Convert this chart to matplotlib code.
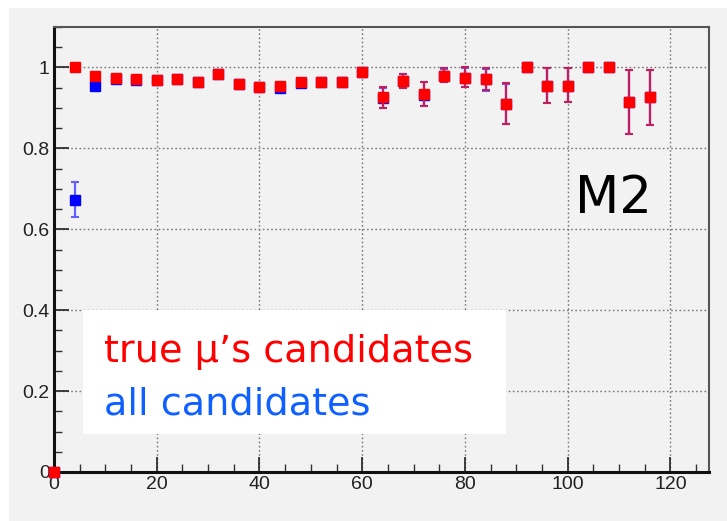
import matplotlib
matplotlib.use("Agg")
import matplotlib.pyplot as plt
from matplotlib.patches import Rectangle
from matplotlib.ticker import MultipleLocator

# Efficiency per bin, station M2
x_bins = [0, 4, 8, 12, 16, 20, 24, 28, 32, 36, 40, 44, 48, 52, 56, 60,
          64, 68, 72, 76, 80, 84, 88, 92, 96, 100, 104, 108, 112, 116]

eff_true = [0.0, 1.0, 0.979, 0.975, 0.971, 0.970, 0.972, 0.965, 0.985, 0.960,
            0.952, 0.955, 0.963, 0.965, 0.965, 0.990,
            0.926, 0.967, 0.934, 0.979, 0.974, 0.972, 0.910, 1.0, 0.955,
            0.955, 1.0, 1.0, 0.915, 0.926]
err_true_lo = [0.0, 0.0, 0.004, 0.004, 0.004, 0.004, 0.004, 0.005, 0.005, 0.005,
               0.005, 0.005, 0.006, 0.007, 0.010, 0.005,
               0.025, 0.018, 0.029, 0.014, 0.022, 0.028, 0.050, 0.0, 0.043,
               0.040, 0.0, 0.0, 0.079, 0.068]
err_true_hi = [0.0, 0.0, 0.004, 0.004, 0.004, 0.004, 0.004, 0.005, 0.005, 0.005,
               0.005, 0.005, 0.006, 0.007, 0.010, 0.005,
               0.026, 0.017, 0.031, 0.019, 0.026, 0.026, 0.051, 0.0, 0.044,
               0.044, 0.0, 0.0, 0.079, 0.068]

eff_all = [0.0, 0.673, 0.955, 0.972, 0.968, 0.969, 0.971, 0.964, 0.984, 0.959,
           0.951, 0.949, 0.962, 0.964, 0.964, 0.989,
           0.924, 0.966, 0.933, 0.978, 0.973, 0.971, 0.909, 1.0, 0.955,
           0.955, 1.0, 1.0, 0.915, 0.926]
err_all_lo = [0.0, 0.042, 0.006, 0.004, 0.004, 0.004, 0.004, 0.005, 0.005, 0.005,
              0.005, 0.005, 0.006, 0.007, 0.010, 0.005,
              0.025, 0.018, 0.029, 0.014, 0.022, 0.028, 0.050, 0.0, 0.043,
              0.040, 0.0, 0.0, 0.079, 0.068]
err_all_hi = [0.0, 0.043, 0.006, 0.004, 0.004, 0.004, 0.004, 0.005, 0.005, 0.005,
              0.005, 0.005, 0.006, 0.007, 0.010, 0.005,
              0.026, 0.017, 0.031, 0.019, 0.026, 0.026, 0.051, 0.0, 0.044,
              0.044, 0.0, 0.0, 0.079, 0.068]

legend_true = "true \u03bc\u2019s candidates"
legend_all = "all candidates"
station = "M2"

panel = "#f2f2f2"
fig = plt.figure(figsize=(7.27, 5.21), dpi=100, facecolor="white")
fig.patches.append(Rectangle((9 / 727, 0), 1, 1 - 8 / 521, transform=fig.transFigure,
                             facecolor=panel, edgecolor="none", zorder=-10))

ax = fig.add_axes([54 / 727, 49 / 521, 655 / 727, 445 / 521])
ax.set_facecolor(panel)
ax.set_xlim(0, 127.5)
ax.set_ylim(0, 1.1)

ax.xaxis.set_major_locator(MultipleLocator(20))
ax.xaxis.set_minor_locator(MultipleLocator(5))
ax.yaxis.set_major_locator(MultipleLocator(0.2))
ax.yaxis.set_minor_locator(MultipleLocator(0.05))
ax.set_yticks([0, 0.2, 0.4, 0.6, 0.8, 1.0])
ax.set_yticklabels(["0", "0.2", "0.4", "0.6", "0.8", "1"])
ax.set_xticks([0, 20, 40, 60, 80, 100, 120])
ax.set_xticklabels(["0", "20", "40", "60", "80", "100", "120"])

ax.tick_params(which="major", direction="in", length=11, width=1.2, color="#222222",
               labelsize=14, labelcolor="#222222", pad=3)
ax.tick_params(which="minor", direction="in", length=6, width=1.0, color="#333333")
ax.tick_params(top=False, right=False)
for lab in ax.get_xticklabels() + ax.get_yticklabels():
    lab.set_fontfamily("Liberation Sans")

ax.grid(True, which="major", color="#777777", linestyle=(0, (1.2, 1.8)), linewidth=1.0)
ax.set_axisbelow(True)

for side in ("left", "bottom"):
    ax.spines[side].set_linewidth(2.2)
    ax.spines[side].set_color("#111111")
for side in ("top", "right"):
    ax.spines[side].set_linewidth(1.5)
    ax.spines[side].set_color("#555555")

ax.errorbar(x_bins, eff_all, yerr=[err_all_lo, err_all_hi], fmt="s", color="#0000ff",
            ecolor="#6060ff", markersize=7, elinewidth=1.6,
            capsize=3.0, capthick=1.5, clip_on=False, zorder=3)
ax.errorbar(x_bins, eff_true, yerr=[err_true_lo, err_true_hi], fmt="s", color="#ff0000",
            ecolor="#c02060", markersize=7, elinewidth=1.6,
            capsize=3.0, capthick=1.5, clip_on=False, zorder=4)

# Legend box drawn as a white panel with coloured text lines
ax.add_patch(Rectangle((5.6, 0.095), 82.3, 0.305, facecolor="white", edgecolor="none",
                       zorder=5))
ax.text(9.7, 0.272, legend_true, color="#ff0000", fontsize=27.5, family="DejaVu Sans",
        va="baseline", ha="left", zorder=6)
ax.text(9.7, 0.143, legend_all, color="#1060ff", fontsize=27.5, family="DejaVu Sans",
        va="baseline", ha="left", zorder=6)

ax.text(101.5, 0.64, station, color="black", fontsize=37, family="DejaVu Sans",
        va="baseline", ha="left", zorder=6)

fig.savefig("out.png", dpi=100, facecolor=fig.get_facecolor())
